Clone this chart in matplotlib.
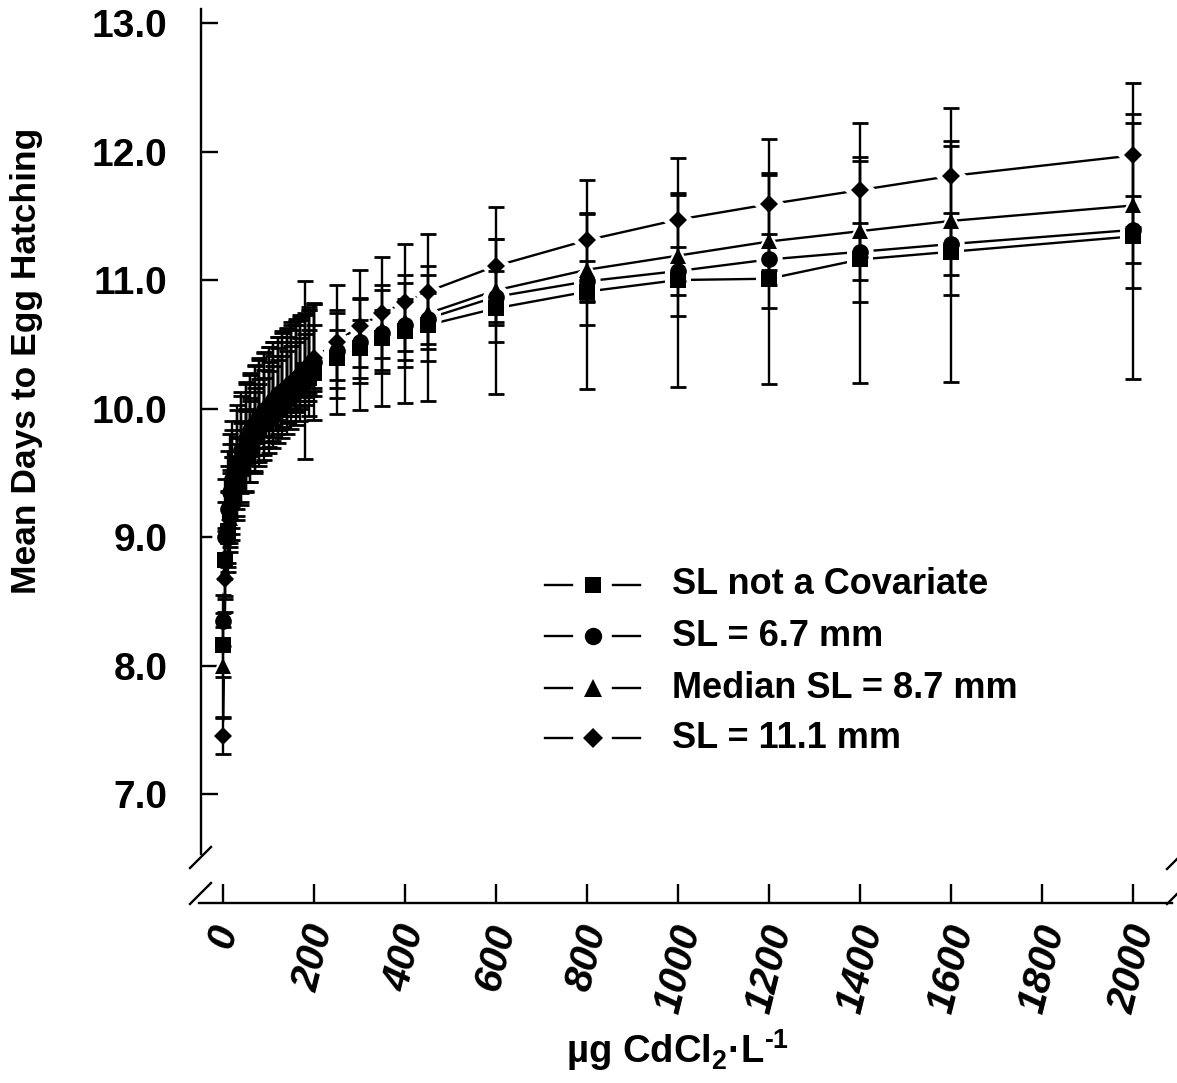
import matplotlib
matplotlib.use("Agg")
import matplotlib.pyplot as plt
from matplotlib.lines import Line2D

plt.rcParams['font.family'] = ['Liberation Sans', 'DejaVu Sans']
plt.rcParams['mathtext.fontset'] = 'custom'
plt.rcParams['mathtext.rm'] = 'Liberation Sans:bold'
plt.rcParams['mathtext.bf'] = 'Liberation Sans:bold'
plt.rcParams['mathtext.default'] = 'rm'

# Cadmium chloride concentration (ug/L)
dose = [0, 5, 10, 15, 20, 30, 40, 50, 60, 70, 80, 90, 100, 110, 120, 130, 140,
        150, 160, 170, 180, 190, 200, 250, 300, 350, 400, 450, 600, 800, 1000,
        1200, 1400, 1600, 2000]

# Mean days to egg hatching for each model
sl_none = [8.16, 8.82, 9.05, 9.20, 9.30, 9.44, 9.55, 9.64, 9.71, 9.78, 9.83, 9.88,
           9.93, 9.97, 10.01, 10.05, 10.08, 10.12, 10.15, 10.18, 10.30, 10.24, 10.28,
           10.39, 10.47, 10.55, 10.60, 10.65, 10.78, 10.91, 11.00, 11.01, 11.16,
           11.22, 11.34]
sl_67 = [8.35, 9.00, 9.22, 9.35, 9.45, 9.58, 9.68, 9.76, 9.83, 9.89, 9.94, 9.99,
         10.03, 10.07, 10.11, 10.14, 10.17, 10.20, 10.23, 10.26, 10.29, 10.32, 10.36,
         10.45, 10.52, 10.59, 10.65, 10.70, 10.87, 10.99, 11.07, 11.16, 11.22,
         11.28, 11.39]
sl_87 = [8.00, 8.72, 9.00, 9.15, 9.27, 9.42, 9.54, 9.63, 9.71, 9.78, 9.84, 9.89,
         9.94, 9.98, 10.03, 10.06, 10.10, 10.14, 10.17, 10.20, 10.23, 10.26, 10.30,
         10.47, 10.55, 10.62, 10.68, 10.74, 10.92, 11.08, 11.19, 11.30, 11.38,
         11.46, 11.58]
sl_111 = [7.45, 8.67, 8.98, 9.13, 9.23, 9.38, 9.50, 9.60, 9.68, 9.76, 9.83, 9.89,
          9.95, 10.00, 10.05, 10.10, 10.14, 10.19, 10.23, 10.27, 10.31, 10.35, 10.39,
          10.52, 10.64, 10.74, 10.83, 10.91, 11.11, 11.31, 11.47, 11.59, 11.70,
          11.81, 11.97]

# Distances from each mean down to the lower and up to the upper confidence limit
lo_none = [0.25, 0.28, 0.28, 0.28, 0.28, 0.28, 0.28, 0.28, 0.28, 0.28, 0.28, 0.28,
           0.28, 0.28, 0.28, 0.28, 0.28, 0.28, 0.28, 0.28, 0.69, 0.30, 0.37,
           0.43, 0.48, 0.53, 0.56, 0.59, 0.67, 0.76, 0.83, 0.82, 0.96, 1.01, 1.11]
hi_none = [0.25, 0.45, 0.50, 0.52, 0.53, 0.55, 0.55, 0.55, 0.55, 0.55, 0.55, 0.55,
           0.55, 0.55, 0.55, 0.55, 0.55, 0.55, 0.55, 0.55, 0.69, 0.55, 0.53,
           0.35, 0.39, 0.41, 0.44, 0.46, 0.54, 0.61, 0.68, 0.82, 0.80, 0.86, 0.95]
lo_67 = [0.20, 0.20, 0.20, 0.20, 0.20, 0.20, 0.20, 0.20, 0.20, 0.20, 0.20, 0.20,
         0.20, 0.20, 0.20, 0.20, 0.20, 0.20, 0.20, 0.20, 0.20, 0.20, 0.20,
         0.23, 0.20, 0.20, 0.20, 0.20, 0.20, 0.16, 0.19, 0.20, 0.22, 0.24, 0.26]
hi_67 = [0.20, 0.45, 0.45, 0.45, 0.45, 0.45, 0.45, 0.45, 0.45, 0.45, 0.45, 0.45,
         0.45, 0.45, 0.45, 0.45, 0.45, 0.45, 0.45, 0.45, 0.45, 0.45, 0.45,
         0.16, 0.17, 0.18, 0.20, 0.20, 0.20, 0.16, 0.19, 0.20, 0.22, 0.24, 0.26]
lo_87 = [0.40, 0.20, 0.20, 0.20, 0.20, 0.20, 0.20, 0.20, 0.20, 0.20, 0.20, 0.20,
         0.20, 0.20, 0.20, 0.20, 0.20, 0.20, 0.20, 0.20, 0.20, 0.20, 0.20,
         0.31, 0.31, 0.34, 0.36, 0.37, 0.40, 0.43, 0.47, 0.52, 0.55, 0.58, 0.64]
hi_87 = [0.30, 0.35, 0.35, 0.35, 0.35, 0.35, 0.35, 0.35, 0.35, 0.35, 0.35, 0.35,
         0.35, 0.35, 0.35, 0.35, 0.35, 0.35, 0.35, 0.35, 0.35, 0.35, 0.35,
         0.30, 0.30, 0.30, 0.30, 0.30, 0.40, 0.43, 0.47, 0.52, 0.55, 0.58, 0.64]
lo_111 = [0.14, 0.25, 0.25, 0.25, 0.25, 0.25, 0.25, 0.25, 0.25, 0.25, 0.25, 0.25,
          0.25, 0.25, 0.25, 0.25, 0.25, 0.25, 0.25, 0.25, 0.25, 0.25, 0.25,
          0.44, 0.44, 0.44, 0.45, 0.45, 0.46, 0.47, 0.48, 0.51, 0.52, 0.53, 0.56]
hi_111 = [0.14, 0.38, 0.38, 0.39, 0.39, 0.40, 0.40, 0.40, 0.40, 0.40, 0.40, 0.41,
          0.41, 0.41, 0.42, 0.42, 0.42, 0.42, 0.42, 0.42, 0.42, 0.42, 0.43,
          0.44, 0.44, 0.44, 0.45, 0.45, 0.46, 0.47, 0.48, 0.51, 0.52, 0.53, 0.56]

labels = ['SL not a Covariate', 'SL = 6.7 mm', 'Median SL = 8.7 mm', 'SL = 11.1 mm']
markers = ['s', 'o', '^', 'D']
msizes = [11.5, 12.0, 12.0, 9.3]
means = [sl_none, sl_67, sl_87, sl_111]
errs = [(lo_none, hi_none), (lo_67, hi_67), (lo_87, hi_87), (lo_111, hi_111)]

xticks = [0, 200, 400, 600, 800, 1000, 1200, 1400, 1600, 1800, 2000]
yticks = [7.0, 8.0, 9.0, 10.0, 11.0, 12.0, 13.0]

W, H = 1177, 1083
fig = plt.figure(figsize=(W / 100, H / 100), dpi=100)
ax = fig.add_axes([201 / W, 1 - 903 / H, 969 / W, 894 / H])
ax.set_xlim(-48.4, 2081)
ax.set_ylim(6.152, 13.109)

# connecting lines, then white halos so lines stop short of the symbols
for y in means:
    ax.plot(dose, y, '-', color='black', lw=1.7, zorder=2, solid_capstyle='butt')
for y, m, ms in zip(means, markers, msizes):
    ax.plot(dose, y, linestyle='none', marker=m, ms=ms + 7, color='white',
            markeredgewidth=0, zorder=3)
for y, (lo, hi) in zip(means, errs):
    ax.errorbar(dose, y, yerr=[lo, hi], fmt='none', ecolor='black', elinewidth=1.7,
                capsize=5.5, capthick=2.0, zorder=4)
for y, m, ms in zip(means, markers, msizes):
    ax.plot(dose, y, linestyle='none', marker=m, ms=ms, color='black',
            markeredgewidth=0, zorder=5)

# axes with a break between the y range and the x axis
for s in ('top', 'right'):
    ax.spines[s].set_visible(False)
ax.spines['left'].set_bounds(6.53, 13.109)
ax.spines['bottom'].set_bounds(-52.7, 2086)
for s in ('left', 'bottom'):
    ax.spines[s].set_linewidth(1.7)

ax.set_yticks(yticks)
ax.set_yticklabels([f'{v:.1f}' for v in yticks], fontsize=28, fontweight='bold')
ax.set_xticks(xticks)
ax.set_xticklabels([str(v) for v in xticks], fontsize=29, fontweight='bold',
                   fontstyle='italic', rotation=76, ha='center', va='top')
ax.tick_params(axis='y', direction='in', length=12.5, width=1.7, pad=24)
ax.tick_params(axis='x', direction='in', length=13.5, width=1.7, pad=13)


def px(x, y):
    return x / W, 1 - y / H


def seg(x0, y0, x1, y1, **kw):
    (a, b), (c, d) = px(x0, y0), px(x1, y1)
    fig.add_artist(Line2D([a, c], [b, d], transform=fig.transFigure,
                          color='black', lw=1.7, **kw))


# break marks
seg(190, 868, 211, 847)
seg(190, 904, 211, 883)
seg(1167, 869, 1188, 848)
seg(1167, 904, 1188, 883)

# legend drawn by hand: line - symbol - line
rows_y = [585, 636, 688, 738]
for yy, m, ms, lab in zip(rows_y, markers, msizes, labels):
    seg(545, yy, 572, yy)
    seg(613, yy, 640, yy)
    mx, my = px(593, yy)
    fig.add_artist(Line2D([mx], [my], transform=fig.transFigure, marker=m,
                          ms=ms + 0.5, color='black', markeredgewidth=0))
    tx, ty = px(672, yy)
    fig.text(tx, ty, lab, fontsize=26, fontweight='bold', ha='left', va='center')

fig.text(*px(27, 361), 'Mean Days to Egg Hatching', fontsize=25.5,
         fontweight='bold', rotation=90, ha='center', va='center')
fig.text(*px(678, 1050), r'µg CdCl$_{2}$·L$^{\text{-1}}$', fontsize=27.5,
         fontweight='bold', ha='center', va='center')

fig.savefig('out.png', dpi=100)
